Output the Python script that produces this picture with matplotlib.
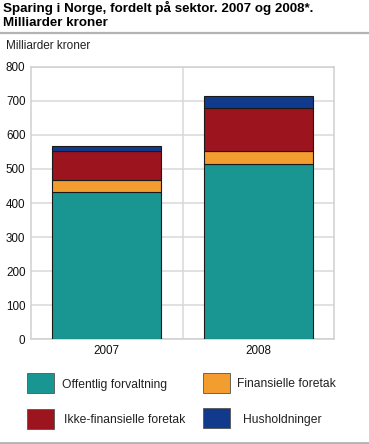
import matplotlib
matplotlib.use("Agg")
import matplotlib.pyplot as plt
import numpy as np
from matplotlib.patches import Rectangle
from matplotlib.lines import Line2D

plt.rcParams["font.family"] = ["Liberation Sans", "DejaVu Sans"]

years = ["2007", "2008"]
series_names = ["Offentlig forvaltning", "Finansielle foretak",
                "Ikke-finansielle foretak", "Husholdninger"]
offentlig = [431, 513]
finansielle = [36, 39]
ikke_finansielle = [85, 128]
husholdninger = [15, 35]
colors = ["#1a9692", "#f39c2f", "#9c141e", "#123a8c"]
yticks = [0, 100, 200, 300, 400, 500, 600, 700, 800]

W, H = 369, 444
fig = plt.figure(figsize=(W / 100, H / 100), dpi=100)

def fx(px):
    return px / W

def fy(py):
    return 1 - py / H

# title block
fig.text(fx(3), fy(0.5), "Sparing i Norge, fordelt på sektor. 2007 og 2008*.\nMilliarder kroner",
         fontsize=9.6, fontweight="bold", va="top", ha="left", linespacing=1.3)
fig.add_artist(Line2D([0, 1], [fy(33), fy(33)], color="#b3b3b3", lw=1.6))
fig.add_artist(Line2D([0, 1], [fy(443), fy(443)], color="#b3b3b3", lw=2))
fig.text(fx(6), fy(46), "Milliarder kroner", fontsize=8.5, va="center", ha="left",
         color="#222222")

ax = fig.add_axes([fx(31), fy(339.3), fx(334) - fx(31), fy(66.7) - fy(339.3)])
x = np.arange(len(years))
bottom = np.zeros(len(years))
for vals, c in zip([offentlig, finansielle, ikke_finansielle, husholdninger], colors):
    ax.bar(x, vals, width=0.72, bottom=bottom, color=c, edgecolor="#1a1a1a",
           linewidth=0.8, zorder=3)
    bottom += np.array(vals)

ax.set_xlim(-0.5, 1.5)
ax.set_ylim(0, 800)
ax.set_yticks(yticks)
ax.set_xticks(x)
ax.set_xticklabels(years)
ax.tick_params(length=0, labelsize=8.4, colors="#111111")
ax.tick_params(axis="y", pad=4)
ax.tick_params(axis="x", pad=4)
ax.grid(axis="y", color="#d9d9d9", lw=1.1, zorder=0)
ax.axvline(0.5, color="#d9d9d9", lw=1.1, zorder=0)
for s in ax.spines.values():
    s.set_color("#d0d0d0")
    s.set_linewidth(1.1)

# legend
legend_pos = [(27, 373, 62, 385), (203, 373, 237, 384),
              (27, 409, 64, 420), (203, 408, 243, 420)]
for (px, py, tx, ty), name, c in zip(legend_pos, series_names, colors):
    fig.add_artist(Rectangle((fx(px), fy(py + 20)), fx(27), 20 / H,
                             facecolor=c, edgecolor="#555555", lw=0.6,
                             transform=fig.transFigure))
    fig.text(fx(tx), fy(ty), name, fontsize=8.7, va="center", ha="left",
             color="#222222")

fig.savefig("out.png", dpi=100)
